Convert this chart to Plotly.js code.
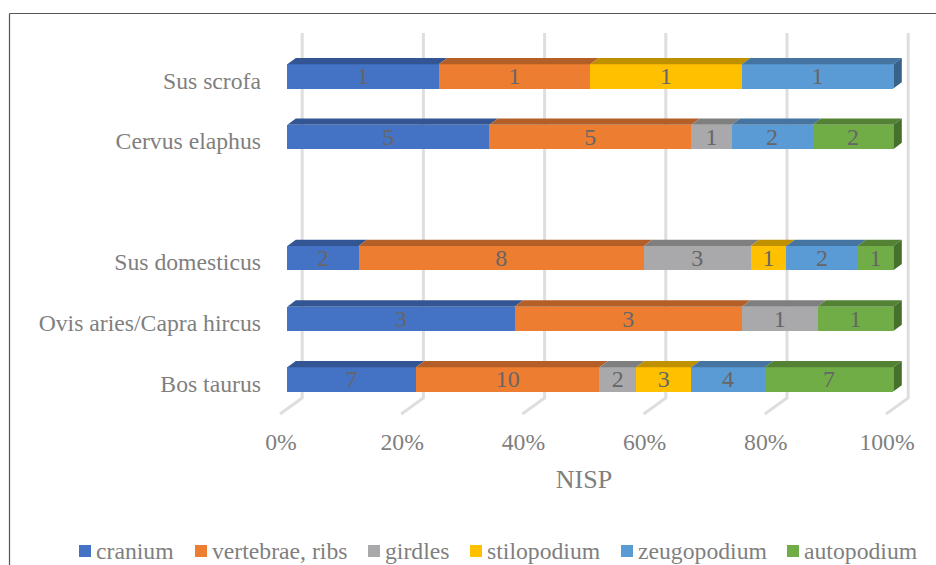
<!DOCTYPE html>
<html><head><meta charset="utf-8">
<script src="https://cdn.plot.ly/plotly-3.0.1.min.js"></script>
<style>html,body{margin:0;padding:0;background:#fff;overflow:hidden}#c{width:936px;height:565px}</style>
</head><body><div id="c"></div>
<script>
// ---- data ----
const categories = ["Bos taurus","Ovis aries/Capra hircus","Sus domesticus","","Cervus elaphus","Sus scrofa"];
const cranium    = [7,3,2,null,5,1];
const vertebrae  = [10,3,8,null,5,1];
const girdles    = [2,1,3,null,1,0];
const stilopodium= [3,0,1,null,0,1];
const zeugopodium= [4,0,2,null,2,1];
const autopodium = [7,1,1,null,2,0];
const seriesNames = ["cranium","vertebrae, ribs","girdles","stilopodium","zeugopodium","autopodium"];
const seriesValues = [cranium,vertebrae,girdles,stilopodium,zeugopodium,autopodium];
const percentTicks = [0,20,40,60,80,100];

// ---- styles ----
const frontColors = ["#4472C4","#ED7D31","#A9A9AB","#FFC000","#5B9BD5","#70AD47"];
const topColors   = ["#335593","#B45F27","#7F7F80","#BF9000","#44749F","#548235"];
const sideColors  = ["#2A4A80","#964E1F","#6A6A6B","#A07A00","#396288","#47702B"];
const legendSwatchX = [79,195,368,470,621,787];
const legendTextX   = [94,210,383,485,636,802];

// ---- geometry: pixel <-> axis ----
const W=936,H=565, L=244,R=924,T=20,B=430;
const X0=287.3, PXX=6.06, Y0=379.4, PXY=60.6;
const xr=[(L-X0)/PXX,(R-X0)/PXX], yr=[(Y0-B)/PXY,(Y0-T)/PXY];
const dX=p=>p/PXX, dY=p=>p/PXY;
const depthX=dX(8.5), depthY=dY(6.3), barW=dY(24.3);
const px=x=>(x-L)/(R-L), py=y=>1-(y-T)/(B-T);

const rows=categories.map((_,i)=>i);
const font='"Liberation Serif","Times New Roman",serif';
const traces=[];
seriesNames.forEach((n,s)=>{
  traces.push({type:'bar',orientation:'h',name:n,y:rows,x:seriesValues[s],
    width:barW,marker:{color:frontColors[s],line:{width:0}},
    text:seriesValues[s].map(v=>v?String(v):''),textposition:'inside',insidetextanchor:'middle',
    textangle:0,constraintext:'none',textfont:{family:font,size:24,color:'#666666'},
    hoverinfo:'name+x',showlegend:false});
});
// 3D faces computed from the same values
const totals=rows.map(r=>seriesValues.reduce((a,v)=>a+(v[r]||0),0));
const cum=rows.map(()=>0);
seriesNames.forEach((n,s)=>{
  const xs=[],ys=[],sx=[],sy=[];
  rows.forEach(r=>{
    const v=seriesValues[s][r]; if(!v) return;
    const a=cum[r]/totals[r]*100, b=(cum[r]+v)/totals[r]*100;
    cum[r]+=v;
    const t=r+barW/2, u=r-barW/2;
    xs.push(a,b,b+depthX,a+depthX,a,null);
    ys.push(t,t,t+depthY,t+depthY,t,null);
    if(cum[r]===totals[r]){
      sx.push(b,b+depthX,b+depthX,b,b,null);
      sy.push(t,t+depthY,u+depthY,u,t,null);
    }
  });
  traces.push({type:'scatter',mode:'lines',x:xs,y:ys,fill:'toself',fillcolor:topColors[s],line:{width:0},hoverinfo:'skip',showlegend:false});
  if(sx.length) traces.push({type:'scatter',mode:'lines',x:sx,y:sy,fill:'toself',fillcolor:sideColors[s],line:{width:0},hoverinfo:'skip',showlegend:false});
});

// gridlines: back wall plus oblique floor run
const gridTop=(Y0-33)/PXY, gridBot=(Y0-398)/PXY, floorFront=(Y0-414)/PXY;
const shapes=percentTicks.map(t=>({type:'path',layer:'below',xref:'x',yref:'y',
  path:`M ${t+dX(14.9)} ${gridTop} L ${t+dX(14.9)} ${gridBot} L ${t-dX(7.3)} ${floorFront}`,
  line:{color:'#dedede',width:3}}));
// outer frame
shapes.push({type:'line',xref:'paper',yref:'paper',x0:px(9.5),x1:px(936),y0:py(13.5),y1:py(13.5),line:{color:'#555',width:1.2}});
shapes.push({type:'line',xref:'paper',yref:'paper',x0:px(9.5),x1:px(9.5),y0:py(13.5),y1:py(565),line:{color:'#555',width:1.2}});
// legend
const annotations=[];
seriesNames.forEach((n,s)=>{
  shapes.push({type:'rect',xref:'paper',yref:'paper',x0:px(legendSwatchX[s]),x1:px(legendSwatchX[s]+12),y0:py(545),y1:py(557),fillcolor:frontColors[s],line:{width:0}});
  annotations.push({xref:'paper',yref:'paper',x:px(legendTextX[s]),y:py(551),xanchor:'left',yanchor:'middle',showarrow:false,text:n,
    font:{family:font,size:23.7,color:'#7f7f7f'}});
});

Plotly.newPlot('c',traces,{
  width:W,height:H,paper_bgcolor:'#fff',plot_bgcolor:'rgba(0,0,0,0)',showlegend:false,
  margin:{l:L,r:W-R,t:T,b:H-B,pad:0},barmode:'stack',barnorm:'percent',
  font:{family:font,color:'#7f7f7f',size:24},
  xaxis:{range:xr,showgrid:false,zeroline:false,showline:false,ticks:'',
    tickmode:'array',tickvals:percentTicks.map(t=>t-dX(6.3)),ticktext:percentTicks.map(t=>t+'%'),
    ticklabelstandoff:-5,
    tickfont:{family:font,size:23.7,color:'#7f7f7f'},
    title:{text:'NISP',font:{family:font,size:26,color:'#7f7f7f'},standoff:16}},
  yaxis:{range:yr,showgrid:false,zeroline:false,showline:false,ticks:'',
    tickmode:'array',tickvals:rows.map(r=>r-dY(4)),ticktext:categories,
    ticklabelstandoff:-18,
    tickfont:{family:font,size:23.7,color:'#7f7f7f'}},
  shapes,annotations
},{displayModeBar:false,staticPlot:true});
</script></body></html>
